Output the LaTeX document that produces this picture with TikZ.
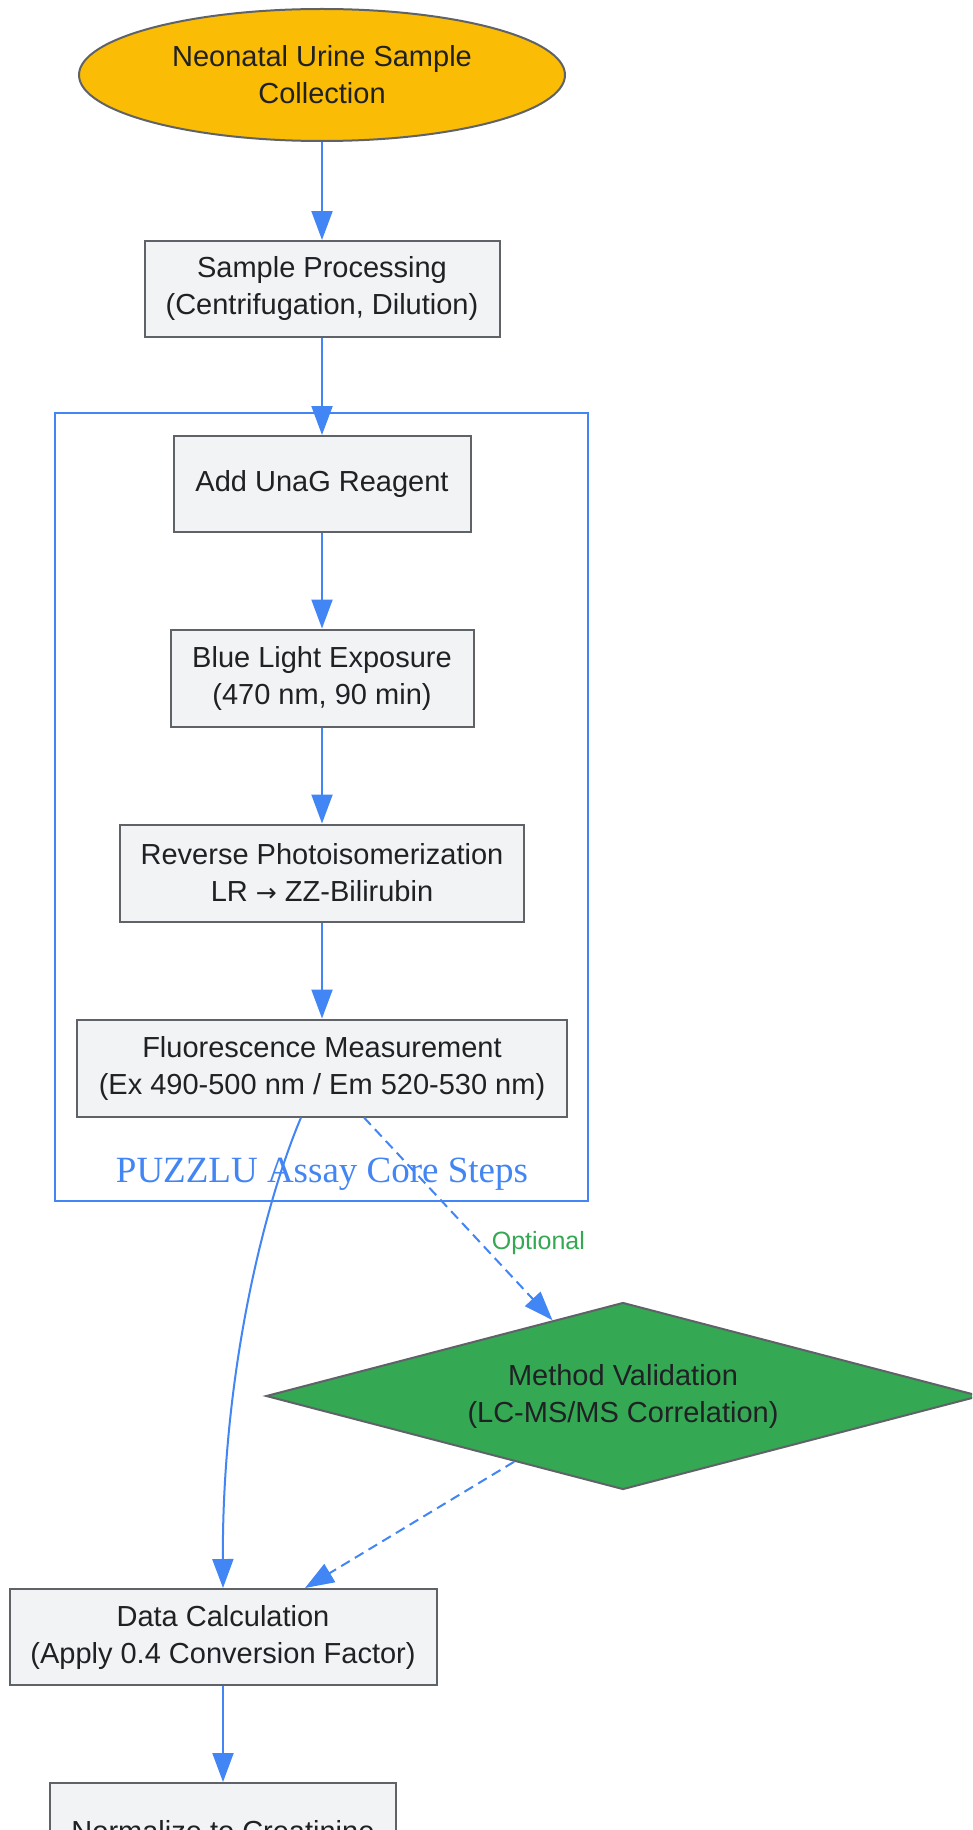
\documentclass[tikz,border=0pt]{standalone}
\usepackage{fontspec}
\setmainfont{Liberation Sans}
\newfontfamily\clusterfont{Liberation Serif}
\usetikzlibrary{shapes.geometric,arrows.meta}
\definecolor{edgeblue}{HTML}{4285F4}
\definecolor{nodegray}{HTML}{5F6368}
\definecolor{boxfill}{HTML}{F1F3F4}
\definecolor{startfill}{HTML}{FBBC05}
\definecolor{validfill}{HTML}{34A853}
\definecolor{txt}{HTML}{202124}
\tikzset{
  basenode/.style={draw=nodegray, line width=2pt, text=txt, align=center, inner sep=0pt,
    font=\fontsize{29}{37}\selectfont},
  stepbox/.style={basenode, rectangle, fill=boxfill},
  flow/.style={draw=edgeblue, line width=2pt, -{Triangle[length=29pt,width=21pt]}},
  dashedflow/.style={flow, dash pattern=on 10pt off 6pt},
}
\begin{document}
\begin{tikzpicture}[x=1pt,y=-1pt]
\useasboundingbox (0,0) rectangle (972,1830);
\clip (0,0) rectangle (972,1830);
\fill[white] (0,0) rectangle (972,1830);

% cluster
\draw[edgeblue, line width=2pt] (55,413) rectangle (588,1201);
\node[text=edgeblue, font=\clusterfont\fontsize{37}{40}\selectfont, inner sep=0pt] (clabel) at (322,1174) {PUZZLU Assay Core Steps};

\node[basenode, ellipse, fill=startfill, minimum width=486pt, minimum height=132pt] (start) at (322,75) {Neonatal Urine Sample\\Collection};
\node[stepbox, minimum width=355pt, minimum height=96pt] (proc) at (322,289) {Sample Processing\\(Centrifugation, Dilution)};
\node[stepbox, minimum width=297pt, minimum height=96pt] (unag) at (322,484) {Add UnaG Reagent};
\node[stepbox, minimum width=303pt, minimum height=97pt] (blue) at (322,678) {Blue Light Exposure\\(470 nm, 90 min)};
\node[stepbox, minimum width=404pt, minimum height=97pt] (rev) at (322,873) {Reverse Photoisomerization\\LR {\fontspec{DejaVu Sans}\fontsize{25}{37}\selectfont →} ZZ-Bilirubin};
\node[stepbox, minimum width=490pt, minimum height=97pt] (fluor) at (322,1068) {Fluorescence Measurement\\(Ex 490-500 nm / Em 520-530 nm)};
\node[basenode, diamond, fill=validfill, aspect=3.82, minimum width=714pt, minimum height=187pt] (valid) at (623,1396) {Method Validation\\(LC-MS/MS Correlation)};
\node[stepbox, minimum width=427pt, minimum height=96pt] (calc) at (223,1637) {Data Calculation\\(Apply 0.4 Conversion Factor)};
\node[stepbox, minimum width=346pt, minimum height=96pt] (norm) at (223,1831) {Normalize to Creatinine};

\draw[flow] (start) -- (proc);
\draw[flow] (proc) -- (unag);
\draw[flow] (unag) -- (blue);
\draw[flow] (blue) -- (rev);
\draw[flow] (rev) -- (fluor);
\draw[flow] ([xshift=-21pt]fluor.south) .. controls (262,1210) and (222,1380) .. (calc.north);
\draw[dashedflow] ([xshift=42pt]fluor.south) -- (valid)
  node[pos=0.62, right=10pt, text=validfill, font=\fontsize{25}{30}\selectfont, inner sep=0pt] (opt) {Optional};
\draw[dashedflow] (valid) -- ([xshift=82pt]calc.north);
\draw[flow] (calc) -- (norm);
\end{tikzpicture}
\end{document}
